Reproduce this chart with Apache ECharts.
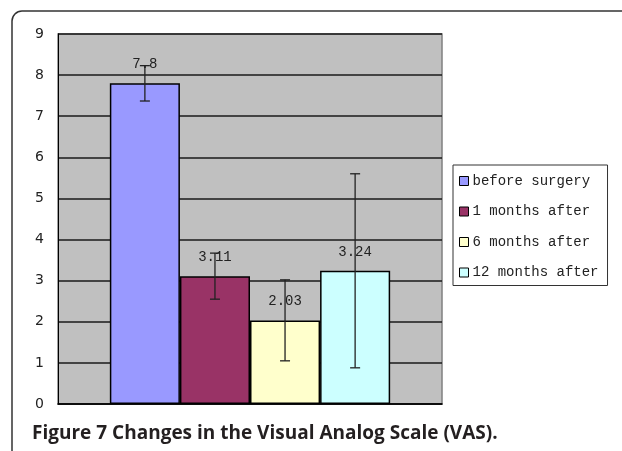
<!DOCTYPE html>
<html>
<head>
<meta charset="utf-8">
<script src="https://cdn.jsdelivr.net/npm/echarts@6/dist/echarts.min.js"></script>
<style>html,body{margin:0;padding:0;background:#fff;}#c{width:622px;height:451px;}</style>
</head>
<body>
<div id="c"></div>
<script>
const categories = ['before surgery', '1 months after', '6 months after', '12 months after'];
const means = [7.8, 3.11, 2.03, 3.24];
const errLow = [7.37, 2.55, 1.05, 0.88];
const errHigh = [8.23, 3.67, 3.02, 5.60];
const colors = ['#9999ff', '#993366', '#ffffcc', '#ccffff'];
const yMin = 0, yMax = 9, yStep = 1;
const captionBold = 'Figure 7';
const captionText = 'Changes in the Visual Analog Scale (VAS).';

const GAP = 0.27;
const chart = echarts.init(document.getElementById('c'));

const barSeries = categories.map((name, i) => ({
  name: name,
  type: 'bar',
  data: [means[i]],
  barGap: '0%',
  barCategoryGap: (GAP * 100) + '%',
  itemStyle: { color: colors[i], borderColor: '#000', borderWidth: 1.5 },
  label: {
    show: true, position: 'top', distance: 12,
    fontFamily: 'Liberation Mono', fontSize: 14, color: '#222',
    formatter: (p) => String(means[i])
  },
  z: 2
}));

const errData = categories.map((n, i) => [0, errLow[i], errHigh[i], i]);

const errSeries = {
  type: 'custom',
  name: 'err',
  data: errData,
  encode: { x: 0, y: [1, 2] },
  z: 10,
  renderItem: function (params, api) {
    const i = api.value(3);
    const band = api.size([1, 0])[0];
    const barW = band * (1 - GAP) / categories.length;
    const cx = api.coord([0, 0])[0] + (i - (categories.length - 1) / 2) * barW;
    const yl = api.coord([0, api.value(1)])[1];
    const yh = api.coord([0, api.value(2)])[1];
    const hw = 5;
    const st = { stroke: '#222', lineWidth: 1.3 };
    return {
      type: 'group',
      children: [
        { type: 'line', shape: { x1: cx, y1: yl, x2: cx, y2: yh }, style: st },
        { type: 'line', shape: { x1: cx - hw, y1: yl, x2: cx + hw, y2: yl }, style: st },
        { type: 'line', shape: { x1: cx - hw, y1: yh, x2: cx + hw, y2: yh }, style: st }
      ]
    };
  }
};

chart.setOption({
  animation: false,
  backgroundColor: '#fff',
  grid: {
    left: 58, top: 34, width: 384, bottom: 47,
    show: true, backgroundColor: '#c0c0c0', borderColor: '#808080', borderWidth: 1.5
  },
  title: {
    left: 27, top: 419,
    text: '{b|' + captionBold + '} {r|' + captionText + '}',
    textStyle: {
      rich: {
        b: { fontFamily: 'Open Sans', fontWeight: 'bold', fontSize: 19, color: '#231f20' },
        r: { fontFamily: 'Open Sans', fontSize: 19, color: '#231f20' }
      }
    }
  },
  legend: {
    data: categories,
    orient: 'vertical',
    left: 453, top: 165,
    itemWidth: 9, itemHeight: 9, itemGap: 16.5,
    icon: 'rect',
    padding: [9, 9, 6, 6],
    borderColor: '#333', borderWidth: 1,
    backgroundColor: '#fff',
    itemStyle: { borderColor: '#000', borderWidth: 1 },
    textStyle: { fontFamily: 'Liberation Mono', fontSize: 14, color: '#222', padding: [0, 0, 0, -1] }
  },
  xAxis: {
    type: 'category',
    data: [''],
    axisLine: { show: true, lineStyle: { color: '#000', width: 1.5 } },
    axisTick: { show: false },
    axisLabel: { show: false },
    splitLine: { show: false }
  },
  yAxis: {
    type: 'value',
    min: yMin, max: yMax, interval: yStep,
    axisLine: { show: true, lineStyle: { color: '#000', width: 1 } },
    axisTick: { show: false },
    axisLabel: { fontFamily: 'DejaVu Sans', fontSize: 14, color: '#222', margin: 14 },
    splitLine: { show: true, lineStyle: { color: '#1a1a1a', width: 1.5 } }
  },
  graphic: [{
    type: 'rect', z: -10, silent: true,
    shape: { x: 12, y: 11, width: 800, height: 800, r: 10 },
    style: { fill: 'none', stroke: '#333', lineWidth: 1.5 }
  }],
  series: barSeries.concat([errSeries])
});
</script>
</body>
</html>
